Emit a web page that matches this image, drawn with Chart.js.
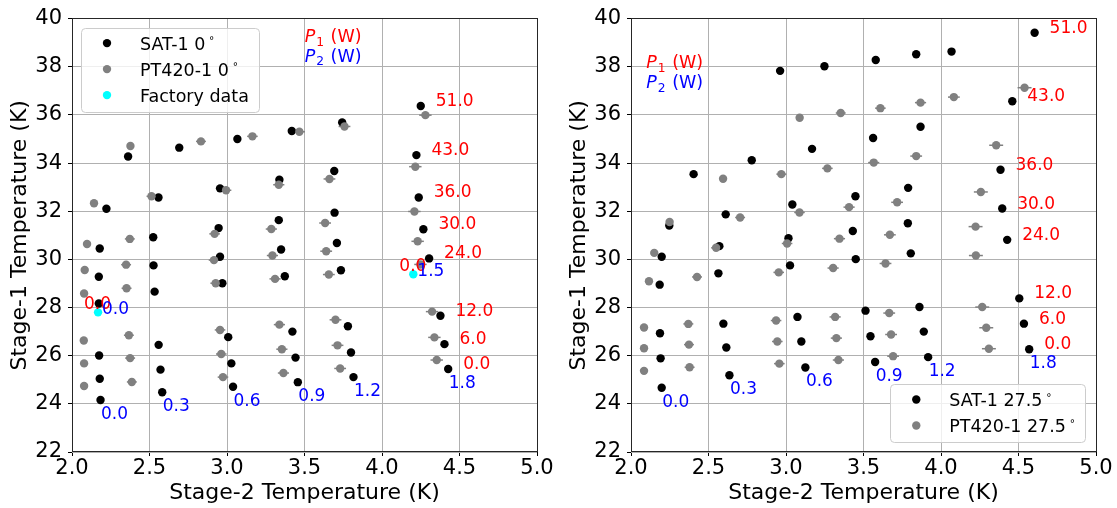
<!DOCTYPE html>
<html>
<head>
<meta charset="utf-8">
<script src="https://cdn.jsdelivr.net/npm/chart.js@4.4.0/dist/chart.umd.min.js"></script>
<style>
  html, body { margin: 0; padding: 0; background: #fff; }
  #wrap { position: relative; width: 1117px; height: 508px; }
  #wrap canvas { position: absolute; top: 0; }
</style>
</head>
<body>
<div id="wrap">
  <canvas id="left" width="558" height="508" style="left:0"></canvas>
  <canvas id="right" width="558" height="508" style="left:559px"></canvas>
</div>
<script>
// heat loads (W): rows follow p1Labels, one inner list per p2Labels column
const p1Labels = [0, 6, 12, 24, 30, 36, 43, 51];
const p2Labels = [0, 0.3, 0.6, 0.9, 1.2, 1.8];

const xTicks = [2.0, 2.5, 3.0, 3.5, 4.0, 4.5, 5.0];
const yTicks = [22, 24, 26, 28, 30, 32, 34, 36, 38, 40];

// 0 deg tilt
const sat0T2 = [
  [2.184, 2.179, 2.175, 2.173, 2.173, 2.179, 2.222, 2.362],
  [2.582, 2.571, 2.559, 2.533, 2.526, 2.524, 2.558, 2.692],
  [3.039, 3.028, 3.008, 2.970, 2.955, 2.946, 2.955, 3.067],
  [3.457, 3.442, 3.422, 3.373, 3.349, 3.334, 3.338, 3.418],
  [3.816, 3.800, 3.780, 3.735, 3.709, 3.694, 3.692, 3.743],
  [4.427, 4.403, 4.377, 4.304, 4.267, 4.237, 4.222, 4.250]
];
const sat0T1 = [
  [24.16, 25.04, 26.01, 28.17, 29.28, 30.45, 32.10, 34.27],
  [24.48, 25.42, 26.45, 28.66, 29.75, 30.92, 32.57, 34.64],
  [24.71, 25.68, 26.77, 29.01, 30.11, 31.30, 32.95, 35.00],
  [24.90, 25.92, 27.00, 29.30, 30.41, 31.63, 33.31, 35.33],
  [25.11, 26.13, 27.22, 29.55, 30.68, 31.94, 33.67, 35.69],
  [25.45, 26.48, 27.66, 30.04, 31.25, 32.57, 34.33, 36.37]
];
const pt0T2 = [
  [2.078, 2.078, 2.076, 2.078, 2.082, 2.097, 2.142, 2.377],
  [2.386, 2.375, 2.367, 2.352, 2.349, 2.373, 2.513, 2.832],
  [2.974, 2.963, 2.955, 2.927, 2.916, 2.920, 2.994, 3.164],
  [3.364, 3.354, 3.338, 3.310, 3.293, 3.286, 3.334, 3.467],
  [3.730, 3.713, 3.700, 3.657, 3.640, 3.633, 3.661, 3.758],
  [4.353, 4.338, 4.323, 4.248, 4.230, 4.209, 4.215, 4.280]
];
const pt0T1 = [
  [24.74, 25.68, 26.63, 28.58, 29.56, 30.64, 32.33, 34.71],
  [24.91, 25.90, 26.85, 28.80, 29.78, 30.85, 32.62, 34.90],
  [25.11, 26.07, 27.07, 29.01, 29.97, 31.06, 32.87, 35.11],
  [25.28, 26.27, 27.29, 29.19, 30.16, 31.26, 33.10, 35.30],
  [25.47, 26.43, 27.49, 29.37, 30.34, 31.51, 33.34, 35.52],
  [25.82, 26.76, 27.83, 29.79, 30.75, 31.99, 33.85, 35.99]
];
const pt0Err = [0.02, 0.032, 0.034, 0.036, 0.038, 0.04];

// 27.5 deg tilt
const sat27T2 = [
  [2.198, 2.191, 2.187, 2.185, 2.198, 2.247, 2.404, 2.962],
  [2.635, 2.615, 2.596, 2.564, 2.570, 2.611, 2.779, 3.248],
  [3.125, 3.099, 3.074, 3.026, 3.016, 3.041, 3.168, 3.579],
  [3.575, 3.545, 3.513, 3.450, 3.431, 3.448, 3.562, 3.840],
  [3.917, 3.889, 3.861, 3.805, 3.786, 3.788, 3.868, 4.068],
  [4.569, 4.535, 4.505, 4.427, 4.395, 4.384, 4.460, 4.604]
];
const sat27T1 = [
  [24.67, 25.89, 26.93, 28.95, 30.11, 31.41, 33.54, 37.83],
  [25.19, 26.34, 27.33, 29.42, 30.55, 31.87, 34.12, 38.02],
  [25.51, 26.59, 27.61, 29.75, 30.88, 32.28, 34.59, 38.28],
  [25.74, 26.81, 27.87, 30.01, 31.18, 32.62, 35.04, 38.52],
  [25.94, 27.00, 28.02, 30.25, 31.50, 32.97, 35.51, 38.63],
  [26.27, 27.33, 28.38, 30.81, 32.11, 33.72, 36.57, 39.41]
];
const pt27T2 = [
  [2.084, 2.084, 2.084, 2.116, 2.150, 2.249, 2.594, 3.088],
  [2.378, 2.374, 2.370, 2.426, 2.549, 2.704, 2.970, 3.353],
  [2.957, 2.944, 2.936, 2.953, 3.007, 3.087, 3.267, 3.609],
  [3.338, 3.325, 3.317, 3.304, 3.345, 3.407, 3.566, 3.868],
  [3.691, 3.678, 3.666, 3.642, 3.670, 3.717, 3.840, 4.083],
  [4.309, 4.292, 4.266, 4.225, 4.223, 4.257, 4.356, 4.539]
];
const pt27T1 = [
  [25.37, 26.31, 27.17, 29.09, 30.27, 31.55, 33.35, 35.88],
  [25.52, 26.46, 27.32, 29.27, 30.48, 31.74, 33.54, 36.08],
  [25.67, 26.59, 27.46, 29.46, 30.66, 31.95, 33.78, 36.28],
  [25.82, 26.73, 27.61, 29.64, 30.86, 32.17, 34.02, 36.51],
  [25.98, 26.88, 27.77, 29.83, 31.02, 32.37, 34.29, 36.74],
  [26.29, 27.16, 28.02, 30.16, 31.36, 32.80, 34.74, 37.13]
];
const pt27Err = [0.02, 0.032, 0.034, 0.036, 0.038, 0.045];

// factory capacity map points
const factoryT2 = [2.168, 4.202];
const factoryT1 = [27.80, 29.38];
const factoryP1 = [0, 0];
const factoryP2 = [0, 1.5];

const FONT = 'DejaVu Sans';

function gridPoints(xs, ys) {
  const pts = [];
  xs.forEach((col, c) => col.forEach((x, r) => pts.push({ x: x, y: ys[c][r], col: c, row: r })));
  return pts;
}

function crisp(v) {
  return Math.round(v - 0.5) + 0.5;
}

// label with a small raised degree ring, like mathtext ^\circ
function drawDegLabel(ctx, text, x, yb, size, measureOnly) {
  ctx.font = size + 'px "' + FONT + '"';
  let main = text, deg = false;
  if (text.endsWith('°')) { main = text.slice(0, -1); deg = true; }
  let w = ctx.measureText(main).width;
  if (!measureOnly) ctx.fillText(main, x, yb);
  if (deg) {
    w += size * 0.22;
    ctx.font = (size * 0.6) + 'px "' + FONT + '"';
    if (!measureOnly) ctx.fillText('°', x + w, yb - size * 0.3);
    w += ctx.measureText('°').width;
  }
  return w;
}

function drawPLabel(ctx, x, yb, sub, color) {
  const size = 17.5;
  ctx.fillStyle = color;
  ctx.font = 'italic ' + size + 'px "' + FONT + '"';
  ctx.fillText('P', x, yb);
  let w = ctx.measureText('P').width + 1;
  ctx.font = (size * 0.7) + 'px "' + FONT + '"';
  ctx.fillText(sub, x + w, yb + size * 0.22);
  w += ctx.measureText(sub).width + 1;
  ctx.font = size + 'px "' + FONT + '"';
  ctx.fillText(' (W)', x + w, yb);
}

function drawLegend(ctx, chart, where) {
  const a = chart.chartArea;
  const size = 17.5;
  const items = chart.data.datasets;
  let tw = 0;
  items.forEach(d => { tw = Math.max(tw, drawDegLabel(ctx, d.label, 0, 0, size, true)); });
  const w = 58.5 + tw + 11;
  const h = 15 + (items.length - 1) * 26 + 17;
  const left = where === 'upper left' ? a.left + 9.5 : a.right - 10 - w;
  const top = where === 'upper left' ? a.top + 9.5 : a.bottom - 9.5 - h;

  ctx.beginPath();
  ctx.roundRect(crisp(left), crisp(top), Math.round(w), Math.round(h), 4);
  ctx.fillStyle = 'rgba(255,255,255,0.8)';
  ctx.fill();
  ctx.strokeStyle = '#cccccc';
  ctx.lineWidth = 1;
  ctx.stroke();

  items.forEach((d, i) => {
    const cy = top + 15 + i * 26;
    ctx.beginPath();
    ctx.arc(left + 25.5, cy, 4.2, 0, Math.PI * 2);
    ctx.fillStyle = d.backgroundColor;
    ctx.fill();
    ctx.fillStyle = '#000';
    drawDegLabel(ctx, d.label, left + 58.5, cy + 6.4, size, false);
  });
}

const panelDecor = {
  id: 'panelDecor',
  beforeDatasetsDraw(chart) {
    const { ctx, scales: { x, y } } = chart;
    chart.data.datasets.forEach(ds => {
      if (!ds.xErr) return;
      ctx.save();
      ctx.strokeStyle = ds.backgroundColor;
      ctx.lineWidth = 1.5;
      ds.data.forEach(p => {
        const e = ds.xErr[p.col];
        const py = y.getPixelForValue(p.y);
        ctx.beginPath();
        ctx.moveTo(x.getPixelForValue(p.x - e), py);
        ctx.lineTo(x.getPixelForValue(p.x + e), py);
        ctx.stroke();
      });
      ctx.restore();
    });
  },
  afterDatasetsDraw(chart, args, opts) {
    const { ctx, chartArea: a, scales: { x, y } } = chart;
    ctx.save();
    ctx.textAlign = 'left';
    ctx.textBaseline = 'alphabetic';
    ctx.font = '17px "' + FONT + '"';

    // P1 labels beside the hottest column, P2 labels under the unloaded row
    const sat = chart.data.datasets[0];
    sat.data.forEach(p => {
      const px = x.getPixelForValue(p.x), py = y.getPixelForValue(p.y);
      if (p.col === p2Labels.length - 1) {
        ctx.fillStyle = '#ff0000';
        ctx.fillText(p1Labels[p.row].toFixed(1), px + 15, py);
      }
      if (p.row === 0) {
        ctx.fillStyle = '#0000ff';
        ctx.fillText(p2Labels[p.col].toFixed(1), px + 0.5, py + 19);
      }
    });

    const fac = chart.data.datasets.find(d => d.factory);
    if (fac) {
      fac.data.forEach((p, i) => {
        const px = x.getPixelForValue(p.x), py = y.getPixelForValue(p.y);
        ctx.fillStyle = '#ff0000';
        ctx.fillText(factoryP1[i].toFixed(1), px - 14, py - 3);
        ctx.fillStyle = '#0000ff';
        ctx.fillText(factoryP2[i].toFixed(1), px + 4, py + 2);
      });
    }

    drawPLabel(ctx, a.left + opts.headerX, a.top + opts.headerY1, '1', '#ff0000');
    drawPLabel(ctx, a.left + opts.headerX, a.top + opts.headerY2, '2', '#0000ff');

    // full frame (spines)
    ctx.strokeStyle = '#262626';
    ctx.lineWidth = 1;
    ctx.strokeRect(crisp(a.left), crisp(a.top), Math.round(a.right) - Math.round(a.left), Math.round(a.bottom) - Math.round(a.top));

    drawLegend(ctx, chart, opts.legendAt);
    ctx.restore();
  }
};

function makeChart(id, datasets, decor) {
  return new Chart(document.getElementById(id), {
    type: 'scatter',
    data: { datasets: datasets },
    options: {
      responsive: false,
      animation: false,
      devicePixelRatio: 1,
      layout: { padding: { top: 16, right: 21, bottom: 0, left: 0 } },
      elements: { point: { radius: 4.2, hoverRadius: 4.2, borderWidth: 0 } },
      plugins: {
        legend: { display: false },
        tooltip: { enabled: false },
        panelDecor: decor
      },
      scales: {
        x: {
          type: 'linear', min: 2, max: 5,
          afterBuildTicks: s => { s.ticks = xTicks.map(v => ({ value: v })); },
          afterFit: s => { s.height = 56; },
          ticks: { font: { family: FONT, size: 21 }, color: '#000', padding: 0, maxRotation: 0, autoSkip: false,
                   callback: v => v.toFixed(1) },
          grid: { color: '#b0b0b0', lineWidth: 1, tickLength: 4, tickColor: '#000' },
          border: { display: false },
          title: { display: true, text: 'Stage-2 Temperature (K)', color: '#000',
                   font: { family: FONT, size: 22 }, padding: { top: 0, bottom: 2 } }
        },
        y: {
          type: 'linear', min: 22, max: 40,
          afterBuildTicks: s => { s.ticks = yTicks.map(v => ({ value: v })); },
          afterFit: s => { s.width = 72; },
          ticks: { font: { family: FONT, size: 21 }, color: '#000', padding: 6, autoSkip: false,
                   callback: v => String(v) },
          grid: { color: '#b0b0b0', lineWidth: 1, tickLength: 4, tickColor: '#000' },
          border: { display: false },
          title: { display: true, text: 'Stage-1 Temperature (K)', color: '#000',
                   font: { family: FONT, size: 22 }, padding: { top: 7, bottom: 0 } }
        }
      }
    },
    plugins: [panelDecor]
  });
}

makeChart('left', [
  { label: 'SAT-1 0°', data: gridPoints(sat0T2, sat0T1), backgroundColor: '#000000', order: 3 },
  { label: 'PT420-1 0°', data: gridPoints(pt0T2, pt0T1), backgroundColor: '#808080', xErr: pt0Err, order: 2 },
  { label: 'Factory data', data: factoryT2.map((v, i) => ({ x: v, y: factoryT1[i] })), backgroundColor: '#00ffff', factory: true, order: 1 }
], { legendAt: 'upper left', headerX: 232.7, headerY1: 23.6, headerY2: 43 });

makeChart('right', [
  { label: 'SAT-1 27.5°', data: gridPoints(sat27T2, sat27T1), backgroundColor: '#000000', order: 3 },
  { label: 'PT420-1 27.5°', data: gridPoints(pt27T2, pt27T1), backgroundColor: '#808080', xErr: pt27Err, order: 2 }
], { legendAt: 'lower right', headerX: 15.3, headerY1: 49.5, headerY2: 69.1 });
</script>
</body>
</html>
